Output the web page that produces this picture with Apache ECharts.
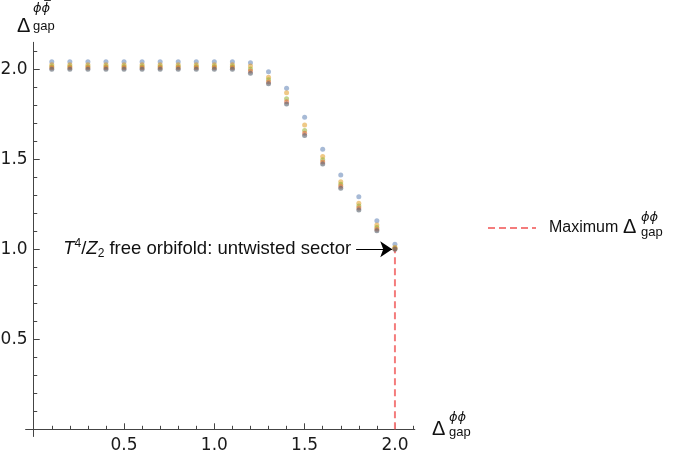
<!DOCTYPE html>
<html>
<head>
<meta charset="utf-8">
<script src="https://cdn.jsdelivr.net/npm/echarts@6/dist/echarts.min.js"></script>
<style>html,body{margin:0;padding:0;background:#fff}#c{width:675px;height:457px}</style>
</head>
<body>
<div id="c"></div>
<script>
// ---- data ----
const xs = [0.1,0.2,0.3,0.4,0.5,0.6,0.7,0.8,0.9,1.0,1.1,1.2,1.3,1.4,1.5,1.6,1.7,1.8,1.9,2.0];
const seriesBlue   = [2.042,2.042,2.042,2.042,2.042,2.042,2.042,2.042,2.042,2.042,2.042,2.037,1.987,1.895,1.733,1.556,1.413,1.292,1.159,1.028];
const seriesOrange = [2.025,2.025,2.025,2.025,2.025,2.025,2.025,2.025,2.025,2.025,2.025,2.018,1.956,1.870,1.690,1.516,1.375,1.256,1.135,1.012];
const seriesGreen  = [2.015,2.015,2.015,2.015,2.015,2.015,2.015,2.015,2.015,2.015,2.015,2.002,1.942,1.836,1.660,1.498,1.362,1.241,1.121,1.006];
const seriesRed    = [2.008,2.008,2.008,2.008,2.008,2.008,2.008,2.008,2.008,2.008,2.008,1.990,1.930,1.820,1.645,1.485,1.350,1.229,1.111,1.003];
const seriesGray   = [2.000,2.000,2.000,2.000,2.000,2.000,2.000,2.000,2.000,2.000,2.000,1.978,1.920,1.807,1.632,1.474,1.339,1.218,1.103,1.000];
const maxLineX = [2.0, 2.0];
const maxLineY = [0.0, 1.0];
const arrowX = [1.785, 1.985];
const arrowY = [1.0, 1.0];
const majorTicks = [0.5, 1.0, 1.5, 2.0];
const minorTicks = [0.1,0.2,0.3,0.4,0.6,0.7,0.8,0.9,1.1,1.2,1.3,1.4,1.6,1.7,1.8,1.9,2.1];
const legendName = 'Maximum';

const SANS = '"Liberation Sans", Arial, sans-serif';
const TICKF = '"DejaVu Sans", sans-serif';
const PHI = 'italic 13px "DejaVu Sans", sans-serif';
const AX = '#444';

const chart = echarts.init(document.getElementById('c'), null, {renderer: 'canvas'});

function scatter(name, vals, color, op) {
  return {
    type: 'scatter', name: name, xAxisIndex: 0, yAxisIndex: 0,
    data: xs.map((x, i) => [x, vals[i]]),
    symbolSize: 5,
    itemStyle: {color: color, opacity: op},
    z: 5, silent: true
  };
}

function axisPair(dim) {
  const isX = dim === 'x';
  const range = isX ? {min: -0.045, max: 2.11} : {min: -0.04, max: 2.15};
  const base = {
    type: 'value', min: range.min, max: range.max,
    position: isX ? 'bottom' : 'left',
    splitLine: {show: false},
  };
  return [
    Object.assign({}, base, {
      axisLine: {show: true, onZero: true, onZeroAxisIndex: 0, lineStyle: {color: AX, width: 1}},
      axisTick: {show: true, inside: true, length: 6, customValues: majorTicks, lineStyle: {color: AX}},
      axisLabel: {show: true, customValues: majorTicks, formatter: v => v.toFixed(1),
        margin: isX ? 1 : -2, fontFamily: TICKF, fontSize: 17, color: '#1a1a1a'}
    }),
    Object.assign({}, base, {
      axisLine: {show: false, onZero: true, onZeroAxisIndex: 0},
      axisTick: {show: true, inside: true, length: 3.5, customValues: minorTicks, lineStyle: {color: AX}},
      axisLabel: {show: false}
    })
  ];
}

const option = {
  animation: false,
  grid: {left: 25.6, right: 260.2, top: 42.3, bottom: 20.5, containLabel: false, outerBoundsMode: 'none'},
  xAxis: axisPair('x'),
  yAxis: axisPair('y'),
  legend: {
    show: true, left: 487, top: 220, padding: 0,
    data: [legendName],
    itemWidth: 48, itemHeight: 14,
    itemStyle: {opacity: 0},
    textStyle: {fontFamily: SANS, fontSize: 16, color: '#111', padding: [0, 0, 0, 8]}
  },
  series: [
    {
      type: 'line', name: legendName, xAxisIndex: 0, yAxisIndex: 0,
      data: maxLineX.map((x, i) => [x, maxLineY[i]]),
      symbol: 'none', showSymbol: false, z: 2, silent: true,
      lineStyle: {color: '#f47c7c', width: 2, type: [7, 4]},
      itemStyle: {color: '#f47c7c'},
      markLine: {
        silent: true, symbol: ['none', 'arrow'], symbolSize: 12,
        lineStyle: {color: '#000', type: 'solid', width: 1},
        label: {
          show: true, position: 'start', distance: 5,
          formatter: '{i|T}{sup|4}{n|/}{i|Z}{sub|2}{n| free orbifold: untwisted sector}',
          rich: {
            i: {fontFamily: SANS, fontSize: 18.5, fontStyle: 'italic', color: '#111'},
            n: {fontFamily: SANS, fontSize: 18.5, color: '#111'},
            sup: {fontFamily: SANS, fontSize: 12, color: '#111', padding: [0, 0, 11, 0]},
            sub: {fontFamily: SANS, fontSize: 12, color: '#111', padding: [9, 0, 0, 0]}
          }
        },
        emphasis: {disabled: true},
        data: [[{coord: [arrowX[0], arrowY[0]]}, {coord: [arrowX[1], arrowY[1]]}]]
      }
    },
    scatter('s1', seriesBlue, '#5E81B5', 0.55),
    scatter('s2', seriesOrange, '#E19C24', 0.55),
    scatter('s3', seriesGreen, '#8FB032', 0.55),
    scatter('s4', seriesRed, '#EB6235', 0.55),
    scatter('s5', seriesGray, '#55606c', 0.6)
  ],
  graphic: [
    // y-axis title
    {type: 'text', left: 17, top: 16, style: {text: 'Δ', font: '20px ' + SANS, fill: '#111'}},
    {type: 'text', left: 33, top: 2, style: {text: 'ϕϕ\u0305', font: PHI, fill: '#111'}},
    {type: 'text', left: 33, top: 20, style: {text: 'gap', font: '13px ' + SANS, fill: '#111'}},
    // x-axis title
    {type: 'text', left: 432, top: 419, style: {text: 'Δ', font: '20px ' + SANS, fill: '#111'}},
    {type: 'text', left: 449, top: 411, style: {text: 'ϕϕ', font: PHI, fill: '#111'}},
    {type: 'text', left: 449, top: 426, style: {text: 'gap', font: '13px ' + SANS, fill: '#111'}},
    // legend symbol
    {type: 'text', left: 623, top: 217, style: {text: 'Δ', font: '20px ' + SANS, fill: '#111'}},
    {type: 'text', left: 641, top: 211, style: {text: 'ϕϕ', font: PHI, fill: '#111'}},
    {type: 'text', left: 641, top: 226, style: {text: 'gap', font: '13px ' + SANS, fill: '#111'}}
  ]
};
chart.setOption(option);
</script>
</body>
</html>
